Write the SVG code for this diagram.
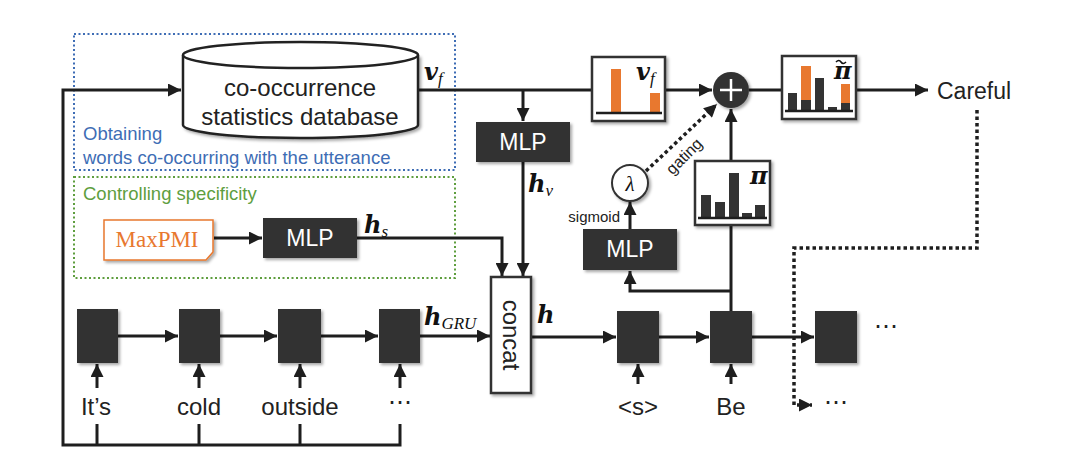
<svg xmlns="http://www.w3.org/2000/svg" width="1080" height="468" viewBox="0 0 1080 468">
<defs>
<style>
.ln{fill:none;stroke:#1e1e1e;stroke-width:3}
.dot{fill:none;stroke:#1e1e1e;stroke-width:3.5;stroke-dasharray:3.5 3}
.dk{fill:#333;filter:url(#sh)}
.wb{fill:#fff;stroke:#333;stroke-width:2.5;filter:url(#sh)}
.sans{font-family:"Liberation Sans",Arial,sans-serif}
.wt{font-family:"Liberation Sans",Arial,sans-serif;fill:#fff;font-size:23px;text-anchor:middle}
.bt{font-family:"Liberation Sans",Arial,sans-serif;fill:#222;font-size:24px;text-anchor:middle}
.m{font-family:"DejaVu Serif","Liberation Serif",serif;font-style:italic;font-weight:bold;fill:#111;font-size:24px}
.sub{font-family:"Liberation Serif","Times New Roman",serif;font-weight:normal;font-size:17px}
.or{fill:#e8782f}
.bar{fill:#333}
</style>
<filter id="sh" x="-20%" y="-20%" width="150%" height="150%">
<feDropShadow dx="2" dy="2" stdDeviation="1.5" flood-color="#000" flood-opacity="0.35"/>
</filter>
<marker id="ah" viewBox="0 0 10 10" refX="10" refY="5" markerWidth="14" markerHeight="13" markerUnits="userSpaceOnUse" orient="auto">
<path d="M0,0 L10,5 L0,10 z" fill="#1e1e1e"/>
</marker>
</defs>
<rect width="1080" height="468" fill="#fff"/>

<g id="region-obtaining">
<rect x="74" y="34" width="381" height="136" fill="none" stroke="#3e6db5" stroke-width="2" stroke-dasharray="2 2.5"/>
<text x="83" y="140" class="sans" font-size="18.5" fill="#3e6db5">Obtaining</text>
<text x="83" y="164" class="sans" font-size="18.5" fill="#3e6db5">words co-occurring with the utterance</text>
</g>
<g id="region-controlling">
<rect x="74" y="177" width="381" height="101" fill="none" stroke="#5e9e3e" stroke-width="2" stroke-dasharray="2 2.5"/>
<text x="83" y="200" class="sans" font-size="18.5" fill="#5e9e3e">Controlling specificity</text>
</g>

<g id="connectors">
<path class="ln" d="M400,424 V445 H63 V90 H181" marker-end="url(#ah)"/>
<path class="ln" d="M97,424 V445 M199,424 V445 M300,424 V445"/>
<path class="ln" d="M418,90 H592"/>
<path class="ln" d="M523,90 V121" marker-end="url(#ah)"/>
<path class="ln" d="M665,90 H712" marker-end="url(#ah)"/>
<path class="ln" d="M749,90 H782"/>
<path class="ln" d="M856,90 H928" marker-end="url(#ah)"/>
<path class="ln" d="M523,162 V276" marker-end="url(#ah)"/>
<path class="ln" d="M357,238 H502 V276" marker-end="url(#ah)"/>
<path class="ln" d="M214,238 H262" marker-end="url(#ah)"/>
<path class="ln" d="M118,336 H178" marker-end="url(#ah)"/>
<path class="ln" d="M220,336 H277" marker-end="url(#ah)"/>
<path class="ln" d="M321,336 H378" marker-end="url(#ah)"/>
<path class="ln" d="M420,336 H490" marker-end="url(#ah)"/>
<path class="ln" d="M97,388 V364" marker-end="url(#ah)"/>
<path class="ln" d="M199,388 V364" marker-end="url(#ah)"/>
<path class="ln" d="M300,388 V364" marker-end="url(#ah)"/>
<path class="ln" d="M400,388 V364" marker-end="url(#ah)"/>
<path class="ln" d="M638,384 V364" marker-end="url(#ah)"/>
<path class="ln" d="M731,384 V364" marker-end="url(#ah)"/>
<path class="ln" d="M531,337 H616" marker-end="url(#ah)"/>
<path class="ln" d="M659,337 H709" marker-end="url(#ah)"/>
<path class="ln" d="M752,337 H814" marker-end="url(#ah)"/>
<path class="ln" d="M731,311 V225"/>
<path class="ln" d="M731,291 H630 V271" marker-end="url(#ah)"/>
<path class="ln" d="M731,161 V109" marker-end="url(#ah)"/>
<path class="ln" d="M630,229 V202" marker-end="url(#ah)"/>
<path class="dot" d="M646,171 L717,104" marker-end="url(#ah)"/>
<path class="dot" d="M977,110 V248 H794 V405 H812" marker-end="url(#ah)"/>
<text x="620" y="222" class="sans" font-size="15" fill="#222" text-anchor="end">sigmoid</text>
<text x="0" y="0" class="sans" font-size="16" fill="#222" text-anchor="middle" transform="translate(688,160) rotate(-45)">gating</text>
<text x="424" y="80" class="m">v<tspan class="sub" font-style="italic" dy="4">f</tspan></text>
<text x="528" y="192" class="m">h<tspan class="sub" font-style="italic" dy="4">v</tspan></text>
<text x="364" y="233" class="m">h<tspan class="sub" font-style="italic" dy="4">s</tspan></text>
<text x="424" y="325" class="m">h<tspan class="sub" font-style="italic" dy="4">GRU</tspan></text>
<text x="537" y="323" class="m">h</text>
</g>

<g id="database">
<path d="M183,55 V125 A117.5,13 0 0 0 418,125 V55" fill="#fff" stroke="#222" stroke-width="2.5" filter="url(#sh)"/>
<ellipse cx="300.5" cy="55" rx="117.5" ry="13" fill="#fff" stroke="#222" stroke-width="2.5"/>
<text x="300" y="96" class="bt">co-occurrence</text>
<text x="300" y="125" class="bt">statistics database</text>
</g>

<g id="maxpmi">
<path d="M104,220 H213 V252 L206,260 H104 Z" fill="#fff" stroke="#e8782f" stroke-width="1.5" filter="url(#sh)"/>
<text x="157" y="247" font-family="'Liberation Serif','Times New Roman',serif" font-size="23" fill="#e8782f" text-anchor="middle">MaxPMI</text>
</g>

<g id="mlp-s">
<rect x="263" y="218" width="94" height="40" class="dk"/>
<text x="310" y="246" class="wt">MLP</text>
</g>

<g id="mlp-v">
<rect x="476" y="122" width="94" height="40" class="dk"/>
<text x="523" y="150" class="wt">MLP</text>
</g>

<g id="concat">
<rect x="491" y="277" width="40" height="116" class="wb"/>
<text class="bt" transform="translate(503,335) rotate(90)">concat</text>
</g>

<g id="vf-chart">
<rect x="592" y="57" width="73" height="64" class="wb"/>
<rect x="611" y="69" width="10" height="44" class="or"/>
<rect x="650" y="93" width="10" height="20" class="or"/>
<path d="M596,113 H662" stroke="#1e1e1e" stroke-width="2.5"/>
<text x="636" y="80" class="m">v<tspan class="sub" font-style="italic" dy="4">f</tspan></text>
</g>

<g id="plus">
<circle cx="731" cy="90" r="18" fill="#333" filter="url(#sh)"/>
<path d="M720,90 H742 M731,79 V101" stroke="#fff" stroke-width="2.5"/>
</g>

<g id="pi-tilde-chart">
<rect x="782" y="56" width="74" height="63" class="wb"/>
<rect x="788" y="93" width="9" height="18" class="bar"/>
<rect x="801" y="66" width="10" height="34" class="or"/>
<rect x="801" y="100" width="10" height="11" class="bar"/>
<rect x="815" y="78" width="9" height="33" class="bar"/>
<rect x="828" y="107" width="9" height="4" class="bar"/>
<rect x="841" y="84" width="9" height="19" class="or"/>
<rect x="841" y="103" width="9" height="8" class="bar"/>
<path d="M785,111 H853" stroke="#1e1e1e" stroke-width="2.5"/>
<text x="834" y="79" class="m" font-size="22">π</text>
<path d="M836,62 q3,-3 5,0 t5,0" fill="none" stroke="#111" stroke-width="1.6"/>
</g>

<g id="careful">
<text x="937" y="99" class="sans" font-size="23" fill="#222">Careful</text>
</g>

<g id="pi-chart">
<rect x="695" y="161" width="75" height="64" class="wb"/>
<rect x="701" y="195" width="10" height="23" class="bar"/>
<rect x="715" y="202" width="10" height="16" class="bar"/>
<rect x="729" y="173" width="10" height="45" class="bar"/>
<rect x="742" y="213" width="10" height="5" class="bar"/>
<rect x="755" y="205" width="10" height="13" class="bar"/>
<path d="M698,218 H767" stroke="#1e1e1e" stroke-width="2.5"/>
<text x="750" y="184" class="m" font-size="22">π</text>
</g>

<g id="lambda">
<circle cx="630" cy="183" r="18" fill="#fff" stroke="#333" stroke-width="2" filter="url(#sh)"/>
<text x="630" y="191" font-family="'Liberation Serif','Times New Roman',serif" font-style="italic" font-size="21" fill="#111" text-anchor="middle">λ</text>
</g>

<g id="mlp-gate">
<rect x="583" y="229" width="94" height="41" class="dk"/>
<text x="630" y="257" class="wt">MLP</text>
</g>

<g id="gru-enc">
<rect x="77" y="309" width="41" height="54" class="dk"/>
<rect x="179" y="309" width="41" height="54" class="dk"/>
<rect x="278" y="309" width="43" height="54" class="dk"/>
<rect x="379" y="309" width="41" height="54" class="dk"/>
</g>

<g id="gru-dec">
<rect x="617" y="311" width="42" height="52" class="dk"/>
<rect x="710" y="311" width="42" height="52" class="dk"/>
<rect x="815" y="311" width="42" height="52" class="dk"/>
<text x="886" y="334" class="bt">⋯</text>
</g>

<g id="input-words">
<text x="96" y="415" class="bt">It’s</text>
<text x="199" y="415" class="bt">cold</text>
<text x="300" y="415" class="bt">outside</text>
<text x="400" y="410" class="bt">⋯</text>
<text x="638" y="415" class="bt">&lt;s&gt;</text>
<text x="731" y="415" class="bt">Be</text>
<text x="836" y="410" class="bt">⋯</text>
</g>
</svg>
